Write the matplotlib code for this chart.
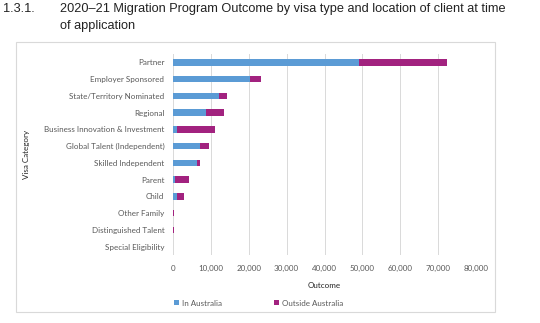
import numpy as np
import matplotlib.pyplot as plt
from matplotlib.patches import Rectangle

categories = ["Partner", "Employer Sponsored", "State/Territory Nominated", "Regional",
              "Business Innovation & Investment", "Global Talent (Independent)",
              "Skilled Independent", "Parent", "Child", "Other Family",
              "Distinguished Talent", "Special Eligibility"]
in_australia = [49100, 20400, 12200, 8700, 1100, 7300, 6300, 600, 1050, 80, 150, 10]
outside_australia = [23300, 2900, 2000, 4800, 9950, 2200, 850, 3800, 1850, 370, 120, 5]
x_ticks = [0, 10000, 20000, 30000, 40000, 50000, 60000, 70000, 80000]

blue = "#5b9bd5"
purple = "#a2227f"
grey = "#595959"

plt.rcParams['font.family'] = ['Lato', 'DejaVu Sans']
title_font = ['Liberation Sans', 'DejaVu Sans']
fs = 5.8

fig = plt.figure(figsize=(5.4, 3.23), dpi=100)
W, H = 540, 323

# Title
fig.text(3 / W, 1 - 9 / H, "1.3.1.", fontsize=9.2, va="center", ha="left", color="#222222",
         family=title_font)
fig.text(60 / W, 1 - 9 / H, "2020\u201321 Migration Program Outcome by visa type and location of client at time",
         fontsize=9.2, va="center", ha="left", color="#222222", family=title_font)
fig.text(60 / W, 1 - 26 / H, "of application", fontsize=9.2, va="center", ha="left", color="#222222",
         family=title_font)

# Chart border
fig.patches.append(Rectangle((16 / W, 1 - 312 / H), (495 - 16) / W, (312 - 42) / H,
                             transform=fig.transFigure, fill=False, edgecolor="#d9d9d9", linewidth=0.8))

ax = fig.add_axes([172.7 / W, 1 - 255 / H, (476.3 - 172.7) / W, (255 - 54) / H])
y = np.arange(len(categories))
ax.barh(y, in_australia, height=0.4, color=blue, label="In Australia")
ax.barh(y, outside_australia, left=in_australia, height=0.4, color=purple, label="Outside Australia")
ax.set_ylim(len(categories) - 0.5, -0.5)
ax.set_xlim(0, 80000)
ax.set_xticks(x_ticks)
ax.set_xticklabels([f"{v:,}" for v in x_ticks], fontsize=fs, color=grey)
ax.set_yticks(y)
ax.set_yticklabels(categories, fontsize=fs, color=grey)
ax.tick_params(axis="y", length=0, pad=6)
ax.tick_params(axis="x", length=0, pad=7)
ax.grid(axis="x", color="#d9d9d9", linewidth=0.7)
ax.set_axisbelow(True)
for s in ax.spines.values():
    s.set_visible(False)
ax.set_xlabel("Outcome", fontsize=fs, color="#222222", labelpad=7)
ax.set_ylabel("Visa Category", fontsize=fs, color="#222222")
ax.yaxis.set_label_coords(-(172.7 - 30) / (476.3 - 172.7), 0.5)

ax.legend(loc="center left", bbox_to_anchor=(-0.02, -0.24), ncol=2, frameon=False, fontsize=fs,
          handlelength=0.6, handleheight=0.6, columnspacing=6.5, handletextpad=0.4,
          labelcolor=grey)

fig.savefig("out.png", dpi=100)
